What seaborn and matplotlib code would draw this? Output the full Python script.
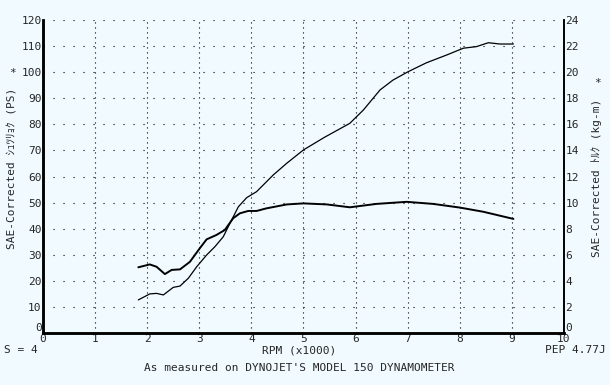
import matplotlib
matplotlib.use("Agg")
import matplotlib.pyplot as plt
import matplotlib.transforms as mtransforms
import seaborn as sns

# dyno run, rpm in thousands
power_rpm = [1.83, 2.05, 2.18, 2.31, 2.50, 2.63, 2.79, 2.95, 3.14, 3.30, 3.46, 3.62,
             3.75, 3.91, 4.10, 4.42, 4.68, 5.00, 5.40, 5.89, 6.15, 6.47, 6.72, 7.01,
             7.36, 7.75, 8.07, 8.32, 8.55, 8.77, 9.03]
power_ps = [12.7, 15.0, 15.2, 14.6, 17.5, 18.0, 21.0, 25.4, 29.9, 33.1, 36.9, 43.3,
            48.4, 51.9, 54.2, 60.6, 65.1, 70.2, 75.0, 80.4, 85.5, 93.2, 97.0, 100.2,
            103.6, 106.6, 109.2, 109.8, 111.3, 110.8, 110.8]

torque_rpm = [1.83, 2.05, 2.18, 2.34, 2.47, 2.63, 2.82, 3.01, 3.14, 3.33, 3.49, 3.65,
              3.78, 3.94, 4.10, 4.29, 4.68, 5.00, 5.45, 5.89, 6.40, 6.98, 7.49, 8.00,
              8.45, 9.03]
torque_kgm = [5.04, 5.26, 5.08, 4.52, 4.84, 4.88, 5.46, 6.50, 7.18, 7.52, 7.90, 8.80,
              9.18, 9.36, 9.36, 9.56, 9.86, 9.94, 9.86, 9.64, 9.90, 10.06, 9.90, 9.62,
              9.30, 8.75]

x_ticks = list(range(0, 11))
ps_ticks = list(range(0, 121, 10))
kgm_ticks = list(range(0, 25, 2))

sns.set_style("white")
plt.rcParams['font.family'] = ['DejaVu Sans Mono', 'Noto Sans CJK JP']
bg = '#f0faff'

fig = plt.figure(figsize=(6.1, 3.85), dpi=100, facecolor=bg)
ax = fig.add_axes([0.0705, 0.135, 0.854, 0.813])
ax.set_facecolor(bg)
ax2 = ax.twinx()

# dotted grid, sparse like the dyno printout
for v in ps_ticks[1:]:
    ax.axhline(v, color='black', lw=0.8, ls=(0, (1, 8)), zorder=1)
for v in x_ticks[1:-1]:
    ax.axvline(v, color='black', lw=0.8, ls=(0, (1, 3.5)), zorder=1)

sns.lineplot(x=power_rpm, y=power_ps, ax=ax, color='black', lw=0.9, sort=False)
sns.lineplot(x=torque_rpm, y=torque_kgm, ax=ax2, color='black', lw=1.4, sort=False)

ax.set_xlim(0, 10)
ax.set_ylim(0, 120)
ax2.set_ylim(0, 24)
ax.set_xticks(x_ticks)
ax.set_yticks(ps_ticks)
ax2.set_yticks(kgm_ticks)

fs = 8
ax.tick_params(axis='x', length=0, pad=1, labelsize=fs)
ax.tick_params(axis='y', length=0, pad=1, labelsize=fs)
ax2.tick_params(axis='y', length=0, pad=1, labelsize=fs)

# the zero labels sit a little above the x axis, as on the printout
lift = mtransforms.ScaledTranslation(0, 4 / 72, fig.dpi_scale_trans)
for t in (ax.yaxis.get_major_ticks()[0].label1, ax2.yaxis.get_major_ticks()[0].label2):
    t.set_transform(t.get_transform() + lift)

for a in (ax, ax2):
    a.spines['top'].set_visible(False)
    for s in ('left', 'right', 'bottom'):
        a.spines[s].set_color('black')
    a.spines['left'].set_linewidth(1.8)
    a.spines['bottom'].set_linewidth(1.8)
    a.spines['right'].set_linewidth(1.2)

fig.text(0.020, 0.563, 'SAE-Corrected ｼｭﾂﾘｮｸ (PS)', rotation=90, ha='center',
         va='center', fontsize=fs)
fig.text(0.020, 0.81, '*', ha='center', va='center', fontsize=fs)
fig.text(0.978, 0.537, 'SAE-Corrected ﾄﾙｸ (kg-m)', rotation=90, ha='center',
         va='center', fontsize=fs)
fig.text(0.979, 0.785, '*', ha='center', va='center', fontsize=fs)

fig.text(0.007, 0.090, 'S = 4', ha='left', va='center', fontsize=fs)
fig.text(0.49, 0.090, 'RPM (x1000)', ha='center', va='center', fontsize=fs)
fig.text(0.993, 0.090, 'PEP 4.77J', ha='right', va='center', fontsize=fs)
fig.text(0.49, 0.043, "As measured on DYNOJET'S MODEL 150 DYNAMOMETER",
         ha='center', va='center', fontsize=fs)

fig.savefig('out.png', dpi=100, facecolor=bg)
